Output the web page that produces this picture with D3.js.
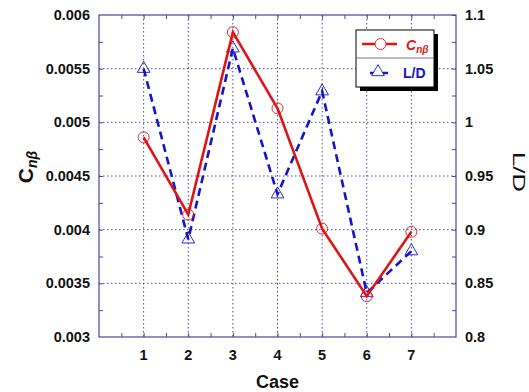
<!DOCTYPE html>
<html>
<head>
<meta charset="utf-8">
<script src="https://cdn.jsdelivr.net/npm/d3@7"></script>
<style>
  body { margin: 0; background: #fff; }
  svg { display: block; font-family: "Liberation Sans", Arial, sans-serif; }
</style>
</head>
<body>
<div id="chart"></div>
<script>
// données
const cases = [1, 2, 3, 4, 5, 6, 7];
const cnBeta = [0.00486, 0.00414, 0.00584, 0.00513, 0.00401, 0.00338, 0.00398];
const liftDrag = [1.050, 0.891, 1.069, 0.933, 1.029, 0.841, 0.880];
const leftTicks = [0.003, 0.0035, 0.004, 0.0045, 0.005, 0.0055, 0.006];
const rightTicks = [0.8, 0.85, 0.9, 0.95, 1, 1.05, 1.1];

const width = 529, height = 392;
const plot = { left: 99, right: 456, top: 15, bottom: 337 };
const frameColor = "#4b46a3";
const red = "#e01414", blue = "#1414c8";

const svg = d3.select("#chart").append("svg")
  .attr("width", width).attr("height", height);

const x = d3.scaleLinear().domain([0, 8]).range([plot.left, plot.right]);
const yL = d3.scaleLinear().domain([0.003, 0.006]).range([plot.bottom, plot.top]);
const yR = d3.scaleLinear().domain([0.8, 1.1]).range([plot.bottom, plot.top]);

// grille pointillée
const grid = svg.append("g")
  .attr("stroke", frameColor).attr("stroke-width", 1).attr("stroke-dasharray", "1.5,2.5");
grid.selectAll("line.v").data(cases).enter().append("line")
  .attr("x1", d => x(d)).attr("x2", d => x(d))
  .attr("y1", plot.top).attr("y2", plot.bottom);
grid.selectAll("line.h").data(leftTicks.slice(1, -1)).enter().append("line")
  .attr("x1", plot.left).attr("x2", plot.right)
  .attr("y1", d => yL(d)).attr("y2", d => yL(d));

// axes (graduations vers l'intérieur)
const minorX = d3.range(0.5, 8, 0.5);
const minorL = d3.range(0.00325, 0.006, 0.00025);
const minorR = d3.range(0.825, 1.1, 0.025);

svg.append("g").attr("transform", `translate(0,${plot.bottom})`)
  .call(d3.axisBottom(x).tickValues(minorX).tickSize(-4).tickFormat(""));
svg.append("g").attr("transform", `translate(0,${plot.top})`)
  .call(d3.axisTop(x).tickValues(minorX).tickSize(-4).tickFormat(""));
svg.append("g").attr("transform", `translate(${plot.left},0)`)
  .call(d3.axisLeft(yL).tickValues(minorL).tickSize(-4).tickFormat(""));
svg.append("g").attr("transform", `translate(${plot.right},0)`)
  .call(d3.axisRight(yR).tickValues(minorR).tickSize(-4).tickFormat(""));

svg.selectAll(".domain").remove();
svg.selectAll(".tick line").attr("stroke", frameColor).attr("stroke-width", 1);

svg.append("rect")
  .attr("x", plot.left).attr("y", plot.top)
  .attr("width", plot.right - plot.left).attr("height", plot.bottom - plot.top)
  .attr("fill", "none").attr("stroke", frameColor).attr("stroke-width", 1.2);

// libellés des graduations
const labelStyle = sel => sel.attr("font-size", 14.5).attr("font-weight", "bold").attr("fill", "#111");

svg.append("g").selectAll("text").data(leftTicks).enter().append("text")
  .attr("x", 90).attr("y", d => yL(d)).attr("dy", "0.35em")
  .attr("text-anchor", "end").text(d => d3.format("")(d)).call(labelStyle);

svg.append("g").selectAll("text").data(rightTicks).enter().append("text")
  .attr("x", 465).attr("y", d => yR(d)).attr("dy", "0.35em")
  .attr("text-anchor", "start").text(d => d).call(labelStyle);

svg.append("g").selectAll("text").data(cases).enter().append("text")
  .attr("x", d => x(d)).attr("y", 355).attr("dy", "0.35em")
  .attr("text-anchor", "middle").text(d => d).call(labelStyle);

// titres des axes
svg.append("text").attr("x", (plot.left + plot.right) / 2).attr("y", 382).attr("dy", "0.35em")
  .attr("text-anchor", "middle").attr("font-size", 18).attr("font-weight", "bold")
  .attr("fill", "#111").text("Case");

const yLabel = svg.append("text")
  .attr("transform", "translate(33,167) rotate(-90)")
  .attr("text-anchor", "middle").attr("font-weight", "bold").attr("fill", "#111");
yLabel.append("tspan").attr("font-size", 21).text("C");
yLabel.append("tspan").attr("font-size", 14).attr("font-style", "italic").attr("dy", 4).text("nβ");

svg.append("text")
  .attr("transform", "translate(513,172) rotate(90)")
  .attr("text-anchor", "middle").attr("font-size", 17).attr("fill", "#111")
  .attr("textLength", 40).attr("lengthAdjust", "spacingAndGlyphs")
  .text("L/D");

// séries
const lineL = d3.line().x((d, i) => x(cases[i])).y(d => yL(d));
const lineR = d3.line().x((d, i) => x(cases[i])).y(d => yR(d));
const tri = d3.symbol().type(d3.symbolTriangle).size(70);

svg.append("path").datum(liftDrag).attr("d", lineR)
  .attr("fill", "none").attr("stroke", blue).attr("stroke-width", 2.6)
  .attr("stroke-dasharray", "8,5");
svg.append("g").selectAll("path").data(liftDrag).enter().append("path")
  .attr("d", tri).attr("transform", (d, i) => `translate(${x(cases[i])},${yR(d)})`)
  .attr("fill", "none").attr("stroke", blue).attr("stroke-width", 0.9);

svg.append("path").datum(cnBeta).attr("d", lineL)
  .attr("fill", "none").attr("stroke", red).attr("stroke-width", 2.6);
svg.append("g").selectAll("circle").data(cnBeta).enter().append("circle")
  .attr("cx", (d, i) => x(cases[i])).attr("cy", d => yL(d)).attr("r", 5.5)
  .attr("fill", "none").attr("stroke", red).attr("stroke-width", 0.9);

// légende
const legend = svg.append("g").attr("transform", "translate(356,30)");
legend.append("rect").attr("x", 4).attr("y", 4).attr("width", 78).attr("height", 57).attr("fill", "#000");
legend.append("rect").attr("x", 0).attr("y", 0).attr("width", 78).attr("height", 57)
  .attr("fill", "#fff").attr("stroke", "#000").attr("stroke-width", 1);
legend.append("line").attr("x1", 0).attr("x2", 78).attr("y1", 28).attr("y2", 28)
  .attr("stroke", "#777").attr("stroke-width", 1);

legend.append("line").attr("x1", 6).attr("x2", 41).attr("y1", 14).attr("y2", 14)
  .attr("stroke", red).attr("stroke-width", 2.6);
legend.append("circle").attr("cx", 24.5).attr("cy", 14).attr("r", 5.5)
  .attr("fill", "#fff").attr("stroke", red).attr("stroke-width", 0.9);
const legText = legend.append("text").attr("x", 50).attr("y", 14).attr("dy", "0.35em")
  .attr("fill", red).attr("font-weight", "bold").attr("font-style", "italic");
legText.append("tspan").attr("font-size", 14).text("C");
legText.append("tspan").attr("font-size", 10).attr("dy", 3).text("nβ");

legend.append("line").attr("x1", 14).attr("x2", 32).attr("y1", 43).attr("y2", 43)
  .attr("stroke", blue).attr("stroke-width", 2.6).attr("stroke-dasharray", "5,8,5");
legend.append("path").attr("d", tri).attr("transform", "translate(22,42)")
  .attr("fill", "#fff").attr("stroke", blue).attr("stroke-width", 0.9);
legend.append("text").attr("x", 47).attr("y", 43).attr("dy", "0.35em")
  .attr("fill", blue).attr("font-weight", "bold").attr("font-size", 14).text("L/D");
</script>
</body>
</html>
